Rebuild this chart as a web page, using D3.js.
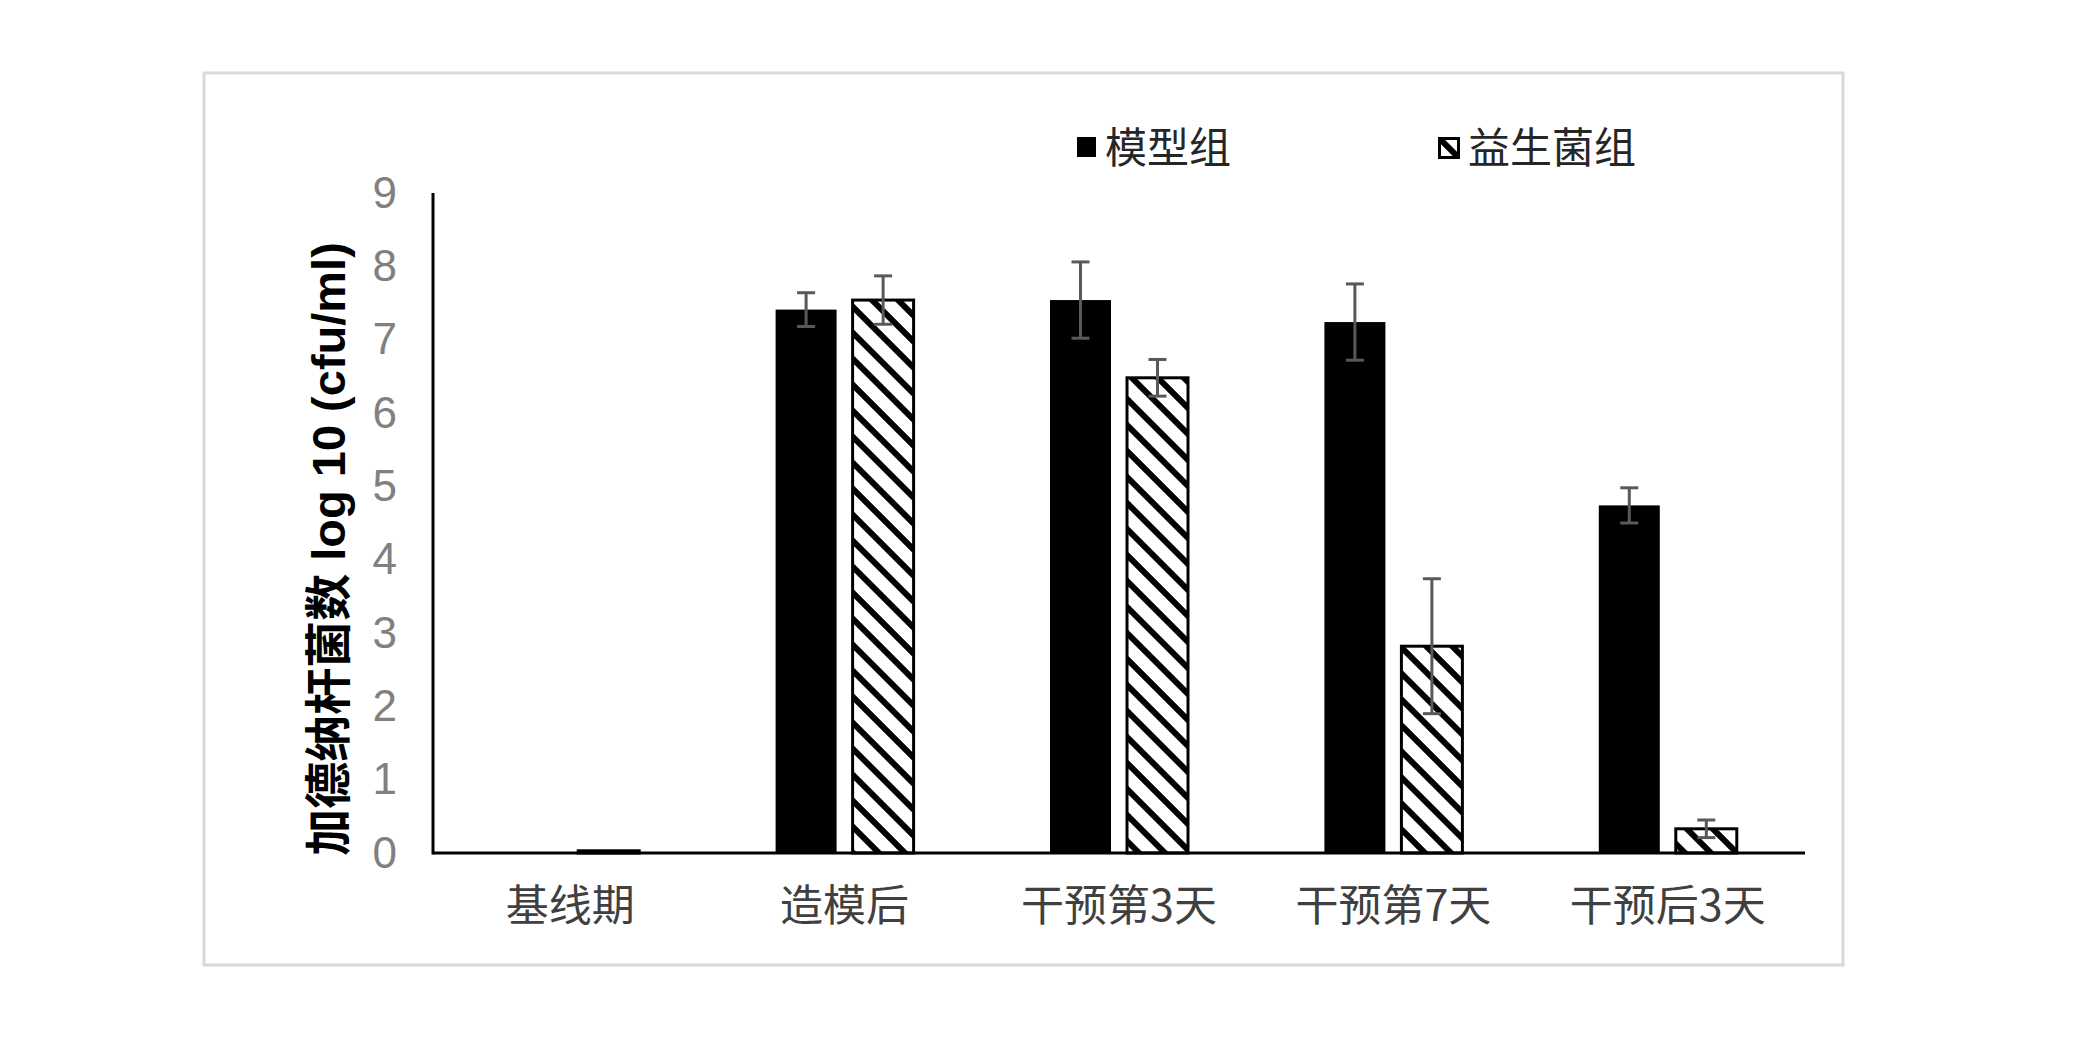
<!DOCTYPE html>
<html>
<head>
<meta charset="utf-8">
<title>加德纳杆菌数</title>
<script src="https://d3js.org/d3.v7.min.js"></script>
<style>
  body { margin: 0; background: #fff; }
  text { font-family: "Liberation Sans", "Noto Sans CJK SC", sans-serif; }
</style>
</head>
<body>
<div id="chart"></div>
<script>
// data
var categories = ["基线期", "造模后", "干预第3天", "干预第7天", "干预后3天"];
var seriesNames = ["模型组", "益生菌组"];
var modelVals = [0, 7.41, 7.54, 7.24, 4.74];
var modelErr  = [0, 0.23, 0.52, 0.52, 0.24];
var probioVals = [0.03, 7.54, 6.48, 2.82, 0.33];
var probioErr  = [0, 0.33, 0.25, 0.92, 0.12];
var yTicks = [0, 1, 2, 3, 4, 5, 6, 7, 8, 9];
var yTitle = "加德纳杆菌数 log 10 (cfu/ml)";

var W = 2098, H = 1062;
var svg = d3.select("#chart").append("svg")
  .attr("width", W).attr("height", H);

svg.append("rect").attr("width", W).attr("height", H).attr("fill", "#fff");

// outer frame
svg.append("rect")
  .attr("x", 204).attr("y", 73).attr("width", 1639).attr("height", 892)
  .attr("fill", "none").attr("stroke", "#d9d9d9").attr("stroke-width", 3);

// hatch pattern
var defs = svg.append("defs");
var pat = defs.append("pattern")
  .attr("id", "hatch")
  .attr("patternUnits", "userSpaceOnUse")
  .attr("width", 26).attr("height", 26);
pat.append("rect").attr("width", 26).attr("height", 26).attr("fill", "#fff");
pat.append("path")
  .attr("d", "M-4,-4 L30,30 M-4,22 L4,30 M22,-4 L30,4")
  .attr("stroke", "#000").attr("stroke-width", 6);

var x0 = d3.scaleBand().domain(categories).range([433, 1805]);
var x1 = d3.scaleBand().domain(seriesNames).range([-69, 69]).paddingInner(0.208);
var y = d3.scaleLinear().domain([0, 9]).range([853, 193]);

var rows = [];
categories.forEach(function(c, i){
  rows.push({cat: c, s: seriesNames[0], v: modelVals[i], e: modelErr[i]});
  rows.push({cat: c, s: seriesNames[1], v: probioVals[i], e: probioErr[i]});
});

function cx(d){ return x0(d.cat) + x0.bandwidth()/2 + x1(d.s) + x1.bandwidth()/2; }

// bars
svg.append("g").selectAll("rect")
  .data(rows)
  .enter().append("rect")
  .attr("x", function(d){ return x0(d.cat) + x0.bandwidth()/2 + x1(d.s); })
  .attr("width", x1.bandwidth())
  .attr("y", function(d){ return y(d.v); })
  .attr("height", function(d){ return y(0) - y(d.v); })
  .attr("fill", function(d){ return d.s === seriesNames[0] ? "#000" : "url(#hatch)"; })
  .attr("stroke", function(d){ return d.s === seriesNames[0] ? "none" : "#000"; })
  .attr("stroke-width", 3);

// error bars
var eb = svg.append("g").attr("stroke", "#595959").attr("stroke-width", 3)
  .selectAll("g")
  .data(rows.filter(function(d){ return d.e > 0; }))
  .enter().append("g");
eb.append("line")
  .attr("x1", cx).attr("x2", cx)
  .attr("y1", function(d){ return y(d.v + d.e); })
  .attr("y2", function(d){ return y(d.v - d.e); });
eb.append("line")
  .attr("x1", function(d){ return cx(d) - 9; }).attr("x2", function(d){ return cx(d) + 9; })
  .attr("y1", function(d){ return y(d.v + d.e); })
  .attr("y2", function(d){ return y(d.v + d.e); });
eb.append("line")
  .attr("x1", function(d){ return cx(d) - 9; }).attr("x2", function(d){ return cx(d) + 9; })
  .attr("y1", function(d){ return y(d.v - d.e); })
  .attr("y2", function(d){ return y(d.v - d.e); });

// y axis
var yAxis = d3.axisLeft(y).tickValues(yTicks).tickSize(0).tickPadding(36);
var gy = svg.append("g").attr("transform", "translate(433,0)").call(yAxis);
gy.select(".domain").remove();
gy.selectAll("text").attr("fill", "#808080").attr("font-size", 44)
  .style("font-family", "'Liberation Sans', sans-serif");
svg.append("line")
  .attr("x1", 433).attr("x2", 433).attr("y1", y(9)).attr("y2", y(0) + 1.5)
  .attr("stroke", "#000").attr("stroke-width", 3);

// x axis
var xAxis = d3.axisBottom(x0).tickSize(0).tickPadding(37);
var gx = svg.append("g").attr("transform", "translate(0," + y(0) + ")").call(xAxis);
gx.select(".domain").remove();
gx.selectAll("text").attr("fill", "#404040").attr("font-size", 43)
  .style("font-family", "'Noto Sans CJK SC', sans-serif");
svg.append("line")
  .attr("x1", 433).attr("x2", 1805).attr("y1", y(0)).attr("y2", y(0))
  .attr("stroke", "#000").attr("stroke-width", 3);

// y title
svg.append("text")
  .attr("transform", "translate(328,549) rotate(-90)")
  .attr("text-anchor", "middle")
  .attr("dominant-baseline", "central")
  .attr("font-size", 47)
  .attr("font-weight", "bold")
  .attr("fill", "#000")
  .text(yTitle);

// legend
var legX = [1077, 1438];
var legend = svg.append("g").selectAll("g")
  .data(seriesNames)
  .enter().append("g")
  .attr("transform", function(d, i){ return "translate(" + legX[i] + ",137)"; });
legend.append("rect")
  .attr("x", function(d, i){ return i === 0 ? 0 : 1.5; })
  .attr("y", function(d, i){ return i === 0 ? 0 : 1.5; })
  .attr("width", 19)
  .attr("height", function(d, i){ return i === 0 ? 20 : 19; })
  .attr("fill", function(d, i){ return i === 0 ? "#000" : "url(#hatch)"; })
  .attr("stroke", function(d, i){ return i === 0 ? "none" : "#000"; })
  .attr("stroke-width", 3);
legend.append("text")
  .attr("x", function(d, i){ return i === 0 ? 28 : 30; })
  .attr("y", 7)
  .attr("dominant-baseline", "central")
  .attr("font-size", 42)
  .attr("fill", "#262626")
  .style("font-family", "'Noto Sans CJK SC', sans-serif")
  .text(function(d){ return d; });
</script>
</body>
</html>
